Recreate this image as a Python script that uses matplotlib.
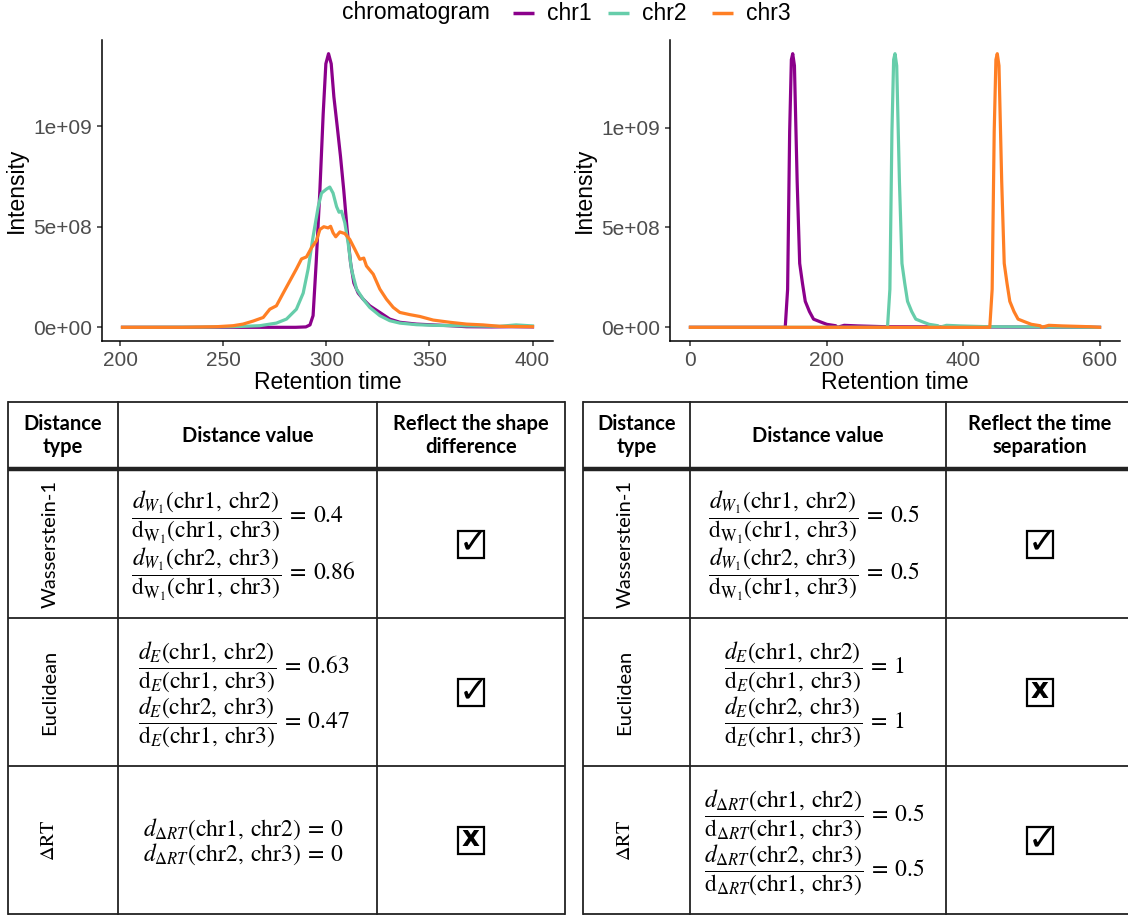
import matplotlib
matplotlib.use("Agg")
import numpy as np
import matplotlib.pyplot as plt
from matplotlib.patches import Rectangle
from matplotlib.ticker import FixedLocator, FuncFormatter

plt.rcParams['font.family'] = ['Liberation Sans', 'DejaVu Sans']
plt.rcParams['mathtext.fontset'] = 'stix'

# ---- chromatograms, left panel (same apex, different shapes) ----
rt_chr1 = [201, 230, 260, 285, 290, 292, 293.5, 295, 296.8, 298.4, 299.7, 301, 302.3, 303.6,
           305.2, 306.8, 308.4, 310, 311.7, 313.3, 315.4, 317.8, 321, 325.9, 330.7, 335.6,
           343.7, 351.8, 360, 368, 380, 390, 400]
int_chr1 = [0, 0, 0, 0, 0.002, 0.012, 0.058, 0.32, 0.68, 1.06, 1.31, 1.36, 1.31, 1.145,
            1.0, 0.85, 0.68, 0.49, 0.32, 0.22, 0.17, 0.14, 0.107, 0.074, 0.041, 0.025,
            0.016, 0.012, 0.008, 0.003, 0.002, 0.003, 0.002]

rt_chr2 = [201, 240, 254.7, 267.6, 275.7, 280.6, 285.4, 288.7, 291.1, 293.5, 296, 297.6, 300,
           301.6, 303.2, 304.9, 306.1, 307.3, 308.9, 310.5, 312.1, 314.6, 317.8, 321, 325.9,
           330.7, 335.6, 343.7, 351.8, 368, 384, 392, 400]
int_chr2 = [0, 0.001, 0.003, 0.008, 0.021, 0.041, 0.09, 0.17, 0.29, 0.45, 0.60, 0.667, 0.687,
            0.697, 0.667, 0.60, 0.572, 0.577, 0.52, 0.42, 0.29, 0.19, 0.14, 0.099, 0.058,
            0.033, 0.021, 0.013, 0.010, 0.007, 0.005, 0.012, 0.007]

rt_chr3 = [201, 230, 246.6, 254.7, 259.5, 264.4, 269.3, 272.5, 275.7, 279, 282.2, 285.4, 287.9,
           290.3, 292.7, 295.1, 296.8, 298.7, 300.8, 302, 303.2, 304.5, 306.5, 308.9, 311.3,
           313.8, 316.2, 318.1, 319.4, 322.7, 325.9, 329.1, 332.4, 335.6, 340.5, 345.3,
           351.8, 359.9, 368, 376, 384, 400]
int_chr3 = [0, 0, 0.003, 0.008, 0.016, 0.031, 0.049, 0.09, 0.107, 0.17, 0.23, 0.29, 0.34,
            0.35, 0.395, 0.43, 0.486, 0.50, 0.494, 0.502, 0.47, 0.45, 0.474, 0.466, 0.437,
            0.387, 0.338, 0.344, 0.305, 0.264, 0.19, 0.14, 0.099, 0.074, 0.063, 0.054,
            0.036, 0.025, 0.016, 0.012, 0.005, 0.003]

# ---- right panel: same peak, three apex times ----
peak_offset = [-11, -7.5, -4.5, -2, 0, 2.5, 6.5, 10.2, 14.3, 18.4, 24.5, 30.5, 40, 50, 63,
               65.5, 75.5, 95.5, 136]
peak_int = [0, 0.19, 0.98, 1.34, 1.37, 1.31, 0.73, 0.32, 0.22, 0.13, 0.079, 0.041, 0.028,
            0.015, 0.008, 0, 0.01, 0.007, 0.003]
apex_rt = [150, 300, 450]
rt_span = [0, 600]

names = ['chr1', 'chr2', 'chr3']
colors = ['#8B008B', '#66CDAA', '#FF7F24']

# ---- tables ----
headers_left = ['Distance\ntype', 'Distance value', 'Reflect the shape\ndifference']
headers_right = ['Distance\ntype', 'Distance value', 'Reflect the time\nseparation']
row_labels = ['Wasserstein-1', 'Euclidean', r'$\Delta\mathrm{RT}$']
ratios_left = [[0.4, 0.86], [0.63, 0.47], [0, 0]]
ratios_right = [[0.5, 0.5], [1, 1], [0.5, 0.5]]
checks_left = [True, True, False]
checks_right = [True, False, True]

num_sub = [r'd_{W_1}', r'd_{E}', r'd_{\Delta RT}']
den_sub = [r'\mathrm{d}_{\mathrm{W}_1}', r'\mathrm{d}_{E}', r'\mathrm{d}_{\Delta RT}']
pairs = [r'(\mathrm{chr1,\:chr2})', r'(\mathrm{chr2,\:chr3})']
base_pair = r'(\mathrm{chr1,\:chr3})'


def fmt(v):
    return ('%g' % v)


def cell_text(i, vals, as_ratio):
    lines = []
    for k in range(2):
        if as_ratio:
            lines.append(r'$\dfrac{%s%s}{%s%s}\:=\:%s$' % (num_sub[i], pairs[k], den_sub[i],
                                                           base_pair, fmt(vals[k])))
        else:
            lines.append(r'$%s%s\:=\:%s$' % (num_sub[i], pairs[k], fmt(vals[k])))
    return '\n'.join(lines)


W, H = 1128, 917
fig = plt.figure(figsize=(W / 100, H / 100), dpi=100)


def px_axes(x0, y0, x1, y1):
    return fig.add_axes([x0 / W, 1 - y1 / H, (x1 - x0) / W, (y1 - y0) / H])


ax1 = px_axes(102, 40, 553, 341)
ax2 = px_axes(670, 40, 1120, 341)

for c, rt, iv in zip(colors, [rt_chr1, rt_chr2, rt_chr3], [int_chr1, int_chr2, int_chr3]):
    ax1.plot(rt, np.array(iv) * 1e9, color=c, lw=2.3, solid_joinstyle='round')

for c, apex in zip(colors, apex_rt):
    x = [rt_span[0]] + [apex + o for o in peak_offset] + [rt_span[1]]
    y = [0] + peak_int + [0]
    ax2.plot(x, np.array(y) * 1e9, color=c, lw=2.3, solid_joinstyle='round')

ax1.xaxis.set_major_locator(FixedLocator([200, 250, 300, 350, 400]))
ax2.xaxis.set_major_locator(FixedLocator([0, 200, 400, 600]))
for ax in (ax1, ax2):
    ax.margins(x=0.05, y=0.05)
    ax.spines['top'].set_visible(False)
    ax.spines['right'].set_visible(False)
    for s in ('left', 'bottom'):
        ax.spines[s].set_linewidth(1.1)
    ax.yaxis.set_major_locator(FixedLocator([0, 5e8, 1e9]))
    ax.yaxis.set_major_formatter(FuncFormatter(lambda v, p: '%.0e' % v))
    ax.tick_params(labelsize=15, labelcolor='#4D4D4D', color='#333333', length=3.5, width=1.1)
    ax.set_xlabel('Retention time', fontsize=16.5, labelpad=1)
    ax.set_ylabel('Intensity', fontsize=16.5, labelpad=4)

# overlay in pixel coordinates for legend and tables
ov = fig.add_axes([0, 0, 1, 1])
ov.set_xlim(0, W)
ov.set_ylim(H, 0)
ov.axis('off')

# legend
ov.text(342, 13, 'chromatogram', fontsize=16.5, va='center', ha='left')
key_x = [513, 608, 712]
for kx, c, n in zip(key_x, colors, names):
    ov.plot([kx, kx + 21], [13, 13], color=c, lw=2.5, solid_capstyle='butt')
    ov.text(kx + 34, 13, n, fontsize=16.5, va='center', ha='left')

# tables
row_y = [402, 469, 618, 766, 914]
tables = [
    dict(cols=[8, 118, 377, 565], headers=headers_left, ratios=ratios_left, checks=checks_left),
    dict(cols=[583, 690, 946, 1134], headers=headers_right, ratios=ratios_right, checks=checks_right),
]
lc = '#222222'
for t in tables:
    cols = t['cols']
    for x in cols:
        ov.plot([x, x], [row_y[0], row_y[-1]], color=lc, lw=1.3)
    for j, y in enumerate(row_y):
        ov.plot([cols[0], cols[-1]], [y, y], color=lc, lw=3.2 if j == 1 else 1.3,
                solid_capstyle='butt')
    hy = (row_y[0] + row_y[1]) / 2
    for k, h in enumerate(t['headers']):
        ov.text((cols[k] + cols[k + 1]) / 2, hy, h, fontsize=14.5, fontweight='bold',
                family='Lato', ha='center', va='center', linespacing=1.2)
    for i in range(3):
        cy = (row_y[i + 1] + row_y[i + 2]) / 2
        lab_fam = 'Liberation Serif' if i == 2 else 'Lato'
        ov.text(cols[0] + 42, cy, row_labels[i], rotation=90, fontsize=14.5, family=lab_fam,
                ha='center', va='center')
        as_ratio = not (t is tables[0] and i == 2)
        ov.text((cols[1] + cols[2]) / 2 - 4, cy + 2, cell_text(i, t['ratios'][i], as_ratio),
                fontsize=17, ha='center', va='center', multialignment='left',
                linespacing=1.0)
        bx = (cols[2] + cols[3]) / 2 if cols[3] < W else 1040
        ov.add_patch(Rectangle((bx - 13, cy - 13), 26, 27, fill=False, lw=1.6, ec='black'))
        if t['checks'][i]:
            ov.text(bx + 2, cy - 1, '\u2713', fontsize=25, family='DejaVu Sans',
                    ha='center', va='center')
        else:
            ov.text(bx, cy - 2, 'x', fontsize=20, family='DejaVu Sans', fontweight='bold',
                    ha='center', va='center')

fig.savefig('out.png', dpi=100)
